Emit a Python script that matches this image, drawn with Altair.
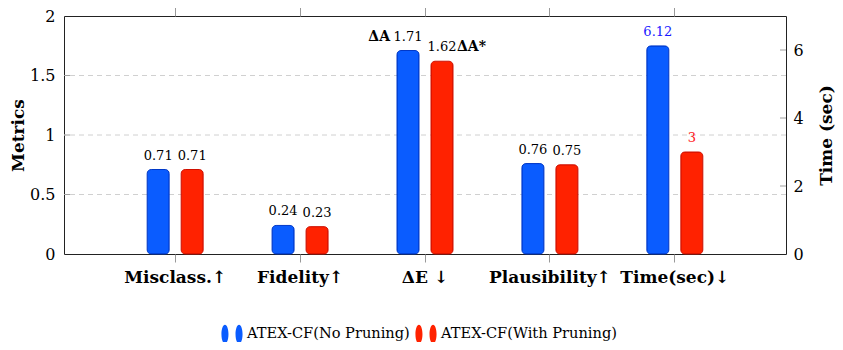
import altair as alt
import pandas as pd

categories = ["Misclass.↑", "Fidelity↑", "ΔE ↓", "Plausibility↑", "Time(sec)↓"]
series = ["ATEX-CF(No Pruning)", "ATEX-CF(With Pruning)"]
no_pruning = [0.71, 0.24, 1.71, 0.76, 6.12]
with_pruning = [0.71, 0.23, 1.62, 0.75, 3]
labels_no = ["0.71", "0.24", "1.71", "0.76", "6.12"]
labels_with = ["0.71", "0.23", "1.62", "0.75", "3"]
delta_labels = ["ΔA", "ΔA*"]
metric_grid = [0.5, 1, 1.5]
metric_ticks = [0, 0.5, 1, 1.5, 2]
time_ticks = [0, 2, 4, 6]
bar_colors = ["#0a5cff", "#ff2200"]
bar_strokes = ["#0038c8", "#d01000"]
time_label_colors = ["#1a1aff", "#ff2020"]

SERIF = "DejaVu Serif"

df_no = pd.DataFrame({"cat": categories, "val": no_pruning, "lab": labels_no, "series": series[0]})
df_with = pd.DataFrame({"cat": categories, "val": with_pruning, "lab": labels_with, "series": series[1]})
m_no, t_no = df_no.iloc[:4], df_no.iloc[4:]
m_with, t_with = df_with.iloc[:4], df_with.iloc[4:]
df_delta_l = pd.DataFrame({"cat": [categories[2]], "val": [no_pruning[2]], "lab": [delta_labels[0]]})
df_delta_r = pd.DataFrame({"cat": [categories[2]], "val": [with_pruning[2]], "lab": [delta_labels[1]]})
df_grid = pd.DataFrame({"v": metric_grid})
df_tticks = pd.DataFrame({"v": time_ticks[1:]})
df_cat = pd.DataFrame({"cat": categories})

x_scale = alt.Scale(domain=categories, paddingInner=0, paddingOuter=0.39)
y_left = alt.Scale(domain=[0, 2], nice=False)
y_right = alt.Scale(domain=[0, 7], nice=False)
sym_path = ("M-0.64,-0.86 A0.32,0.86 0 1,1 -0.64,0.86 A0.32,0.86 0 1,1 -0.64,-0.86 Z "
            "M0.64,-0.86 A0.32,0.86 0 1,1 0.64,0.86 A0.32,0.86 0 1,1 0.64,-0.86 Z")
color_scale = alt.Scale(domain=series, range=bar_colors)
legend = alt.Legend(orient="none", legendX=157, legendY=307, direction="horizontal",
                    title=None, symbolType=sym_path, symbolSize=484, symbolStrokeWidth=0,
                    labelFont=SERIF, labelFontSize=14.6, labelColor="black", labelLimit=400,
                    labelOffset=4, columnPadding=5, padding=0)

x_none = alt.X("cat:N", scale=x_scale, axis=None)

grid = alt.Chart(df_grid).mark_rule(color="#d0d0d0", strokeDash=[5, 4], strokeWidth=1).encode(
    y=alt.Y("v:Q", scale=y_left,
            axis=alt.Axis(orient="left", values=metric_ticks, title="Metrics", grid=False,
                          ticks=False, domain=False, labelFont=SERIF, labelFontSize=16,
                          labelColor="black", labelPadding=9, labelExpr="'' + datum.value",
                          titleFont=SERIF, titleFontSize=17, titleFontWeight="bold",
                          titleColor="black", titleX=-46, titleY=119, titleAlign="center",
                          titleBaseline="middle", titleAngle=270, labelFlush=False)))

left_ticks = alt.Chart(df_grid).mark_rule(color="#a0a0a0").encode(
    y=alt.Y("v:Q", scale=y_left, axis=None), x=alt.value(0), x2=alt.value(6))


def bars(df, off, i, yscale, x_enc=None):
    return alt.Chart(df).mark_bar(width=22, xOffset=off, cornerRadius=4,
                                  stroke=bar_strokes[i], strokeWidth=1).encode(
        x=x_enc if x_enc is not None else x_none,
        y=alt.Y("val:Q", scale=yscale, axis=None),
        color=alt.Color("series:N", scale=color_scale, legend=legend))


def labels(df, off, yscale, color="black", align="center", dx=0, bold=False, size=13):
    return alt.Chart(df).mark_text(xOffset=off + dx, dy=-7, baseline="bottom", align=align,
                                   font=SERIF, fontSize=size, color=color,
                                   fontWeight="bold" if bold else "normal").encode(
        x=x_none, y=alt.Y("val:Q", scale=yscale, axis=None), text="lab:N")


x_bottom = alt.X("cat:N", scale=x_scale, sort=categories, title=None,
                 axis=alt.Axis(orient="bottom", labelAngle=0, labelFont=SERIF,
                               labelFontSize=17, labelFontWeight="bold", labelColor="black",
                               tickColor="#999999", tickSize=8, domain=False, labelPadding=7))

top_axis = alt.Chart(df_cat).mark_text(text="").encode(
    x=alt.X("cat:N", scale=x_scale, title=None,
            axis=alt.Axis(orient="top", labels=False, tickColor="#999999", tickSize=9,
                          domain=False)))

time_bar_no = alt.Chart(t_no).mark_bar(width=22, xOffset=-17, cornerRadius=4,
                                       stroke=bar_strokes[0], strokeWidth=1).encode(
    x=x_none,
    y=alt.Y("val:Q", scale=y_right,
            axis=alt.Axis(orient="right", values=time_ticks, title="Time (sec)", grid=False,
                          ticks=False, domain=False, labelFont=SERIF, labelFontSize=16,
                          labelColor="black", labelPadding=7, titleFont=SERIF,
                          titleFontSize=17, titleFontWeight="bold", titleColor="black",
                          titleAngle=270, titleX=40, titleY=119, titleAlign="center",
                          titleBaseline="middle", labelFlush=False)),
    color=alt.Color("series:N", scale=color_scale, legend=legend))

right_ticks = alt.Chart(df_tticks).mark_rule(color="#a0a0a0").encode(
    y=alt.Y("v:Q", scale=y_right, axis=None),
    x=alt.value(716), x2=alt.value(722))

chart = alt.layer(
    grid,
    left_ticks,
    right_ticks,
    top_axis,
    bars(m_no, -17, 0, y_left, x_bottom),
    bars(m_with, 17, 1, y_left),
    labels(m_no, -17, y_left),
    labels(m_with, 17, y_left),
    labels(df_delta_l, -17, y_left, align="right", dx=-18, bold=True, size=14),
    labels(df_delta_r, 17, y_left, align="left", dx=15, bold=True, size=14),
    time_bar_no,
    bars(t_with, 17, 1, y_right),
    labels(t_no, -17, y_right, color=time_label_colors[0]),
    labels(t_with, 17, y_right, color=time_label_colors[1]),
).resolve_scale(y="independent").resolve_axis(x="independent").properties(
    width=722, height=238,
    autosize=alt.AutoSizeParams(type="none"),
    padding={"left": 56, "top": 8, "right": 49, "bottom": 88},
).configure_view(stroke="#222222", strokeWidth=1)

chart.save("out.html", embed_options={"renderer": "svg", "actions": False})
